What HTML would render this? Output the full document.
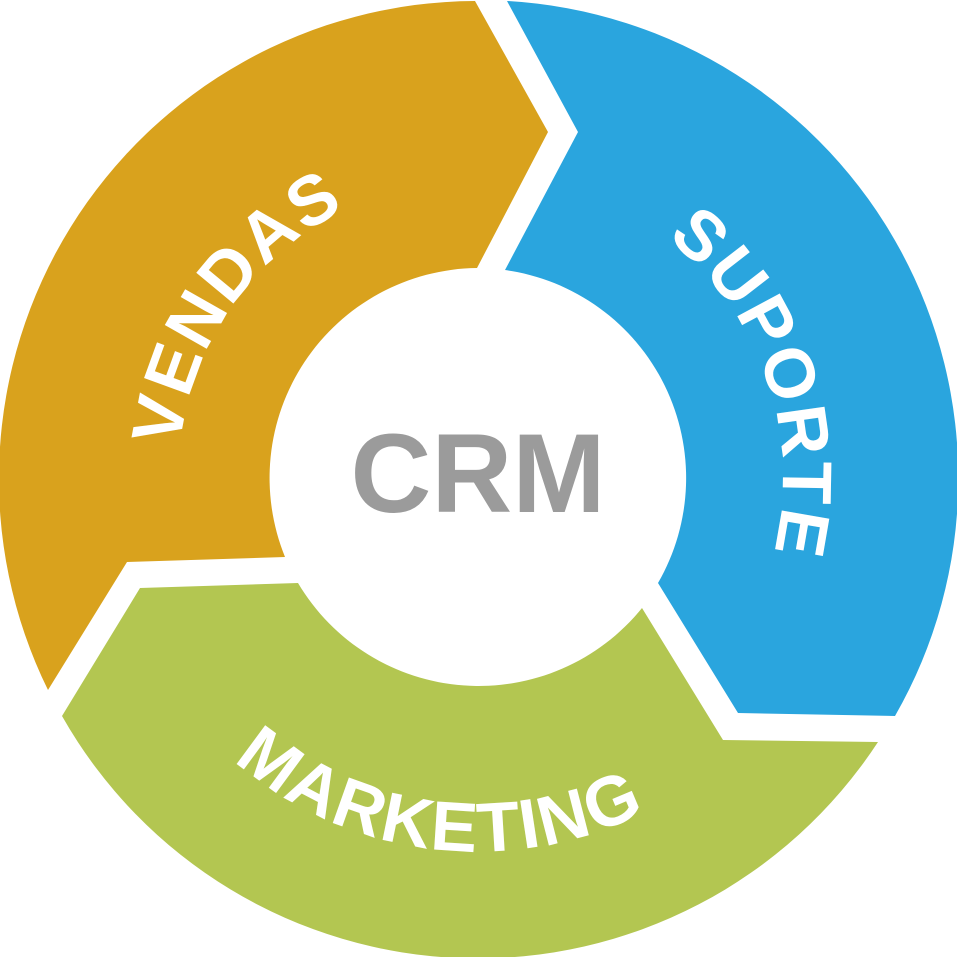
<!DOCTYPE html>
<html><head><meta charset="utf-8"><style>html,body{margin:0;padding:0;background:#fff}svg{display:block}</style></head>
<body>
<svg width="957" height="957" viewBox="0 0 957 957" xmlns="http://www.w3.org/2000/svg">
<defs>
<path id="pv" d="M218,628 A300 300 0 0 1 530,183"/>
<path id="ps" d="M539,179 A305 305 0 0 1 708,678"/>
<path id="pm" d="M115,562 A372 372 0 0 0 810,647"/>
</defs>
<path d="M475,1 L548,132 L477,268 A210 210 0 0 0 285,557 L127,562 L48,690 A478 478 0 0 1 475,1 Z" fill="#D9A21D"/>
<path d="M507,1 A478 478 0 0 1 895,716 L738,713 L658,583 A210 210 0 0 0 505,270 L578,132 Z" fill="#2AA5DE"/>
<path d="M62,716 L140,588 L298,583 A210 210 0 0 0 642,608 L723,740 L878,742 A478 478 0 0 1 62,716 Z" fill="#B3C651"/>
<g font-family="Liberation Sans, sans-serif" font-weight="bold" fill="#fff" font-size="70" letter-spacing="2">
<text><textPath href="#pv" startOffset="50%" text-anchor="middle">VENDAS</textPath></text>
<text><textPath href="#ps" startOffset="50%" text-anchor="middle">SUPORTE</textPath></text>
<text><textPath href="#pm" startOffset="50%" text-anchor="middle">MARKETING</textPath></text>
</g>
<text x="478" y="512" text-anchor="middle" font-family="Liberation Sans, sans-serif" font-weight="bold" font-size="112" fill="#9B9B9B">CRM</text>
</svg>
</body></html>
